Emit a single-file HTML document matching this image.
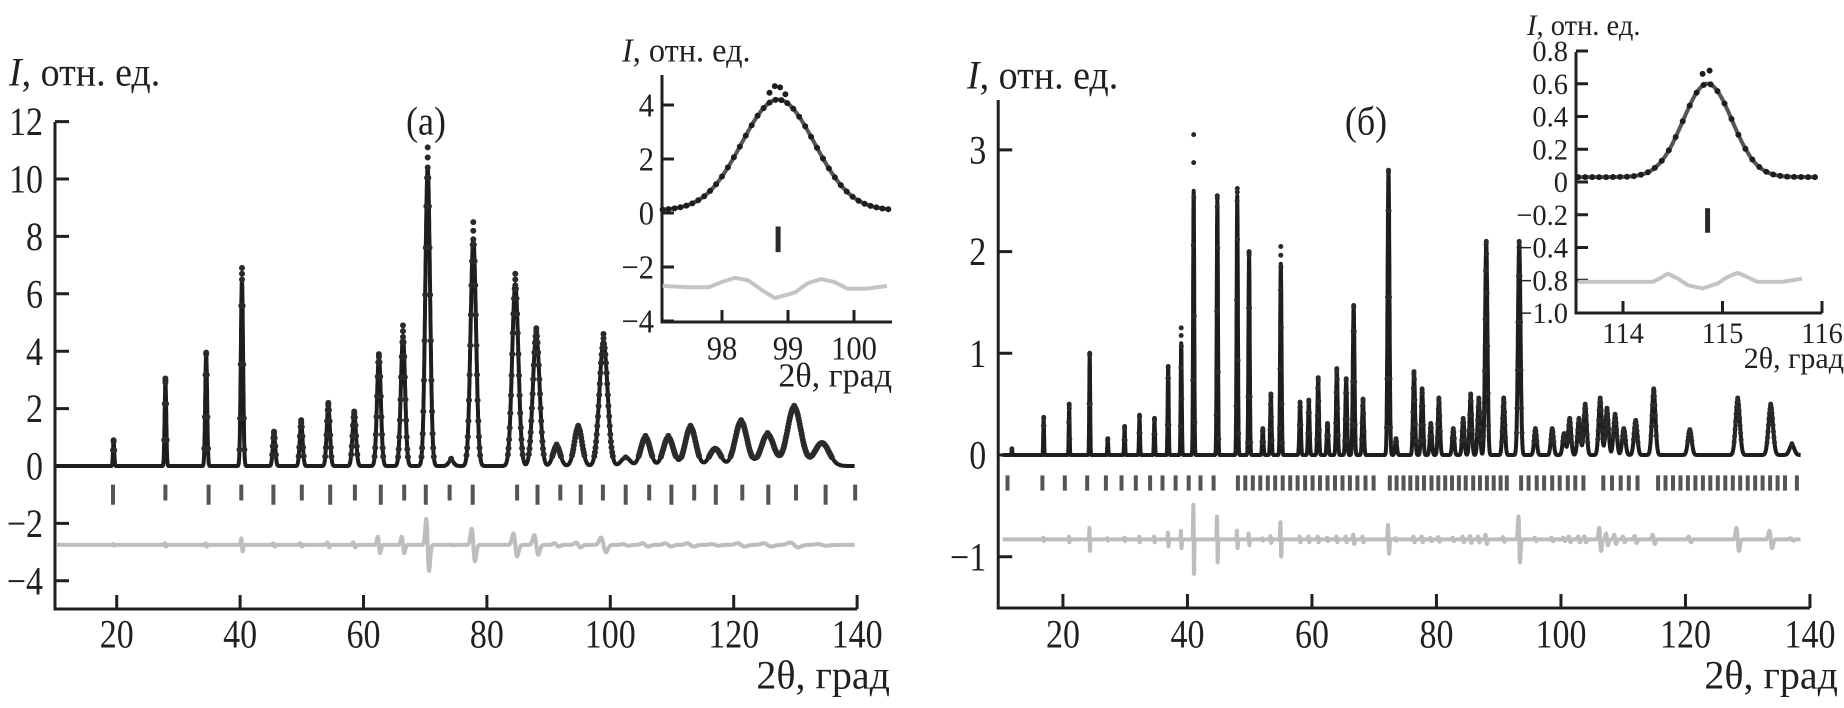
<!DOCTYPE html>
<html><head><meta charset="utf-8"><style>
html,body{margin:0;padding:0;background:#fff;}
svg{display:block;font-family:"Liberation Serif","DejaVu Serif",serif;}
</style></head><body>
<svg id="fig" width="1844" height="708" viewBox="0 0 1844 708" xmlns="http://www.w3.org/2000/svg"></svg>
<script>
// ---------- Panel (a) data ----------
const peaksA = [19.5,27.9,34.5,40.3,45.5,49.9,54.3,58.5,62.5,66.4,70.4,74.2,77.8,84.6,88.0,91.3,94.8,98.9,102.5,105.7,109.4,113.0,117.0,121.2,125.5,129.8,134.3];
const calcA  = [0.85,2.9,3.9,6.5,1.1,1.5,2.1,1.8,3.8,4.5,10.4,0.2,7.9,6.3,4.6,0.7,1.35,4.3,0.3,1.0,1.0,1.35,0.6,1.55,1.1,2.05,0.8];
const obsA   = [0.9,3.05,3.95,6.9,1.2,1.6,2.2,1.9,3.9,4.9,11.1,0.25,8.5,6.7,4.8,0.75,1.4,4.6,0.3,1.05,1.05,1.4,0.6,1.6,1.15,2.1,0.8];
const residA = [0.05,0.1,0.1,0.4,0.1,0.1,0.15,0.15,0.5,0.5,1.6,0.02,1.0,0.7,0.6,0.1,0.15,0.45,0.05,0.1,0.1,0.1,0.05,0.1,0.1,0.15,0.05];
const braggA = [19.4,27.9,34.9,40.2,45.4,50.0,54.6,58.6,62.8,66.6,70.1,73.95,77.7,84.9,88.2,91.9,95.2,98.8,102.5,106.3,109.9,113.6,117.1,121.4,125.6,130.1,134.9,139.7];
const yTicksA = [12,10,8,6,4,2,0,-2,-4];
const xTicks = [20,40,60,80,100,120,140];
// ---------- Panel (б) data ----------
const peaksB = [11.8,16.9,21.0,24.3,27.2,29.9,32.3,34.7,36.9,39.0,41.0,44.8,48.0,49.9,52.1,53.4,55.0,58.1,59.5,61.0,62.5,64.0,65.5,66.7,68.2,72.3,73.5,76.4,77.7,79.1,80.4,82.7,84.3,85.5,86.8,88.0,90.8,93.3,95.9,98.6,100.5,101.4,102.9,103.9,106.3,107.4,108.7,110.1,112.0,114.9,120.7,128.4,133.7,137.1];
const calcB  = [0.05,0.35,0.48,0.98,0.15,0.26,0.37,0.34,0.85,1.1,2.6,2.5,2.55,1.97,0.25,0.58,1.88,0.5,0.52,0.74,0.3,0.83,0.73,1.45,0.53,2.78,0.15,0.8,0.63,0.3,0.54,0.25,0.35,0.58,0.54,2.08,0.54,2.08,0.25,0.25,0.2,0.35,0.35,0.48,0.54,0.44,0.38,0.25,0.33,0.63,0.24,0.54,0.48,0.1];
const obsB   = [0.06,0.37,0.5,1.0,0.16,0.28,0.39,0.36,0.87,1.25,3.15,2.55,2.62,2.0,0.26,0.6,2.05,0.52,0.54,0.76,0.31,0.85,0.75,1.47,0.55,2.8,0.16,0.82,0.65,0.31,0.56,0.26,0.36,0.6,0.56,2.1,0.56,2.1,0.26,0.26,0.21,0.36,0.36,0.5,0.56,0.46,0.4,0.26,0.34,0.65,0.25,0.56,0.5,0.11];
const residB = [0,0.03,0.05,0.2,0.02,0.03,0.05,0.05,0.12,0.15,0.6,0.4,0.15,0.1,0.02,0.06,0.3,0.05,0.05,0.05,0.03,0.05,0.05,0.08,0.05,0.25,0.02,0.05,0.05,0.03,0.04,0.03,0.05,0.06,0.05,0.08,0.04,0.4,0.03,0.03,0.03,0.05,0.05,0.05,0.2,0.1,0.08,0.05,0.06,0.08,0.05,0.2,0.15,0.02];
const braggB = [11.1,16.7,20.3,23.9,26.9,29.4,31.7,34.0,36.0,38.1,40.2,42.1,44.2,48.1,49.3,50.5,51.7,52.9,54.1,55.3,56.5,57.7,58.9,60.1,61.3,62.5,63.7,64.9,66.1,67.3,68.6,69.9,72.5,73.6,74.7,75.8,76.9,78.0,79.2,80.3,81.4,82.5,83.6,84.7,85.9,87.0,88.1,89.2,90.3,91.3,93.6,94.8,96.1,97.3,98.6,99.8,101.1,102.3,103.6,106.8,108.2,109.6,110.9,112.3,115.6,116.8,118.0,119.2,120.4,121.6,122.8,124.0,125.2,126.4,127.6,128.8,130.0,131.2,132.4,133.6,134.8,136.0,137.9];
const yTicksB = [3,2,1,0,-1];
// ---------- Inset (a) data ----------
const insAPeak = [98.85], insACalc = [4.1], insABg = [0.1];
const insATopX = [98.72,98.8,98.88,98.96], insATopY = [4.45,4.7,4.65,4.4];
const insAResX = [97.1,97.5,97.8,98.0,98.2,98.4,98.6,98.8,98.95,99.1,99.3,99.5,99.7,99.9,100.2,100.5];
const insAResY = [-2.7,-2.75,-2.75,-2.55,-2.4,-2.5,-2.85,-3.15,-3.05,-2.95,-2.6,-2.45,-2.55,-2.8,-2.8,-2.7];
const insAYTicks = [4,2,0,-2,-4];
const insAXTicks = [98,99,100];
// ---------- Inset (б) data ----------
const insBPeak = [114.85], insBCalc = [0.57], insBBg = [0.03];
const insBTopX = [114.8,114.87], insBTopY = [0.66,0.68];
const insBResX = [113.55,114.3,114.38,114.45,114.55,114.65,114.8,114.95,115.05,115.15,115.25,115.35,115.6,115.8];
const insBResY = [-0.61,-0.61,-0.585,-0.56,-0.59,-0.63,-0.65,-0.62,-0.58,-0.555,-0.58,-0.61,-0.61,-0.59];
const insBYTickVals = [0.8,0.6,0.4,0.2,0,-0.2,-0.4,-0.6,-0.8];
const insBYTickLabels = ["0.8","0.6","0.4","0.2","0","\u22120.2","\u22120.4","\u22120.8","\u22121.0"];
const insBXTicks = [114,115,116];

const NS = "http://www.w3.org/2000/svg";
const svg = document.getElementById('fig');
function el(tag, attrs, parent){ const e=document.createElementNS(NS,tag); for(const k in attrs) e.setAttribute(k,attrs[k]); (parent||svg).appendChild(e); return e; }
function grp(name){ const g=el('g',{});   return g; }
function label(parent,x,cy,str,size,anchor,sx,name){
  const t=el('text',{transform:`translate(${x},${cy+size*0.34}) scale(${sx},1)`,'font-size':size,'text-anchor':anchor,fill:'#231f20'},parent);
  t.textContent=str;
  
  
  return t;
}
function title(parent,x,cy,size,name){
  const t=el('text',{transform:`translate(${x},${cy+size*0.34}) scale(0.95,1)`,'font-size':size,fill:'#231f20'},parent);
  const a=el('tspan',{'font-style':'italic'},t); a.textContent='I';
  const b=el('tspan',{},t); b.textContent=', отн. ед.';
  
  
}
const fmt = v => v<0 ? '\u2212'+(-v) : String(v);
const LN2 = 4*Math.log(2);
function prof(x,peaks,hs,wf){ let s=0; for(let i=0;i<peaks.length;i++){ const w=wf(peaks[i]); const d=(x-peaks[i])/w; if(Math.abs(d)<4) s+=hs[i]*Math.exp(-LN2*d*d);} return s; }
function resid(x,peaks,amps,wf){ let s=0; for(let i=0;i<peaks.length;i++){ const w=wf(peaks[i])*0.6; const d=(x-peaks[i])/w; if(Math.abs(d)<4) s+=amps[i]*(-d*2.2)*Math.exp(-LN2*d*d);} return s; }

function drawAxes(g,x0,x1,y0,y1,xs,ys,xt,yt,ticklen){
  el('path',{d:`M${x0} ${y0} V${y1} H${x1}`,fill:'none',stroke:'#231f20','stroke-width':3},g);
  let d='';
  yt.forEach(v=>{ d+=`M${x0} ${ys(v)} h${ticklen}`; });
  xt.forEach(v=>{ d+=`M${xs(v)} ${y1} v${-ticklen}`; });
  el('path',{d,fill:'none',stroke:'#231f20','stroke-width':3},g);
}

function drawPanel(o){
  const g=grp(o.name);
  drawAxes(g,o.xs(o.xmin),o.xs(o.xmax),o.ytop,o.ybot,o.xs,o.ys,o.xTicks,o.yTicks,14);
  let d='';
  for(let x=o.dmin;x<=o.dmax;x+=0.012){ const y=o.ys(o.rbase+resid(x,o.peaks,o.res,o.wf)); d+=(d?'L':'M')+o.xs(x).toFixed(1)+' '+y.toFixed(1); }
  const r=el('path',{d,fill:'none',stroke:'#bdbdbd','stroke-width':4,'stroke-linejoin':'round'},g);
   
  d='';
  o.bragg.forEach((p,i)=>{ const lo=o.tickLo+(i%2?0:o.tickStag); d+=`M${o.xs(p).toFixed(1)} ${o.ys(o.tickHi)} V${o.ys(lo)}`; });
  const b=el('path',{d,fill:'none',stroke:'#555','stroke-width':4},g);
   
  d='';
  for(let x=o.dmin;x<=o.dmax;x+=0.012){ const y=o.ys(prof(x,o.peaks,o.calc,o.wf)); d+=(d?'L':'M')+o.xs(x).toFixed(1)+' '+y.toFixed(1); }
  const c=el('path',{d,fill:'none',stroke:'#1e1e1e','stroke-width':4,'stroke-linejoin':'round'},g);
   
  d='';
  for(let x=o.dmin;x<=o.dmax;x+=o.dotStep){ const v=prof(x,o.peaks,o.calc,o.wf); if(v>o.dotMin) d+=`M${o.xs(x).toFixed(1)} ${o.ys(v).toFixed(1)}h0`; }
  o.peaks.forEach((p,i)=>{ d+=`M${o.xs(p).toFixed(1)} ${o.ys(o.obs[i]).toFixed(1)}h0M${o.xs(p).toFixed(1)} ${o.ys((o.obs[i]+o.calc[i])/2).toFixed(1)}h0`; });
  const ob=el('path',{d,fill:'none',stroke:'#2a2a2a','stroke-width':o.dotSize,'stroke-linecap':'round'},g);
   
  o.yTicks.forEach(v=>label(g,o.xs(o.xmin)-12,o.ys(v),fmt(v),40,'end',0.85,'y-tick-label'));
  o.xTicks.forEach(v=>label(g,o.xs(v),634,String(v),40,'middle',0.85,'x-tick-label'));
  label(g,o.xlabR,675,'2θ, град',40,'end',1,'x-axis-title');
  title(g,o.titleX,o.titleY,40,'y-axis-title');
  label(g,o.panelX,121,o.panelLbl,40,'middle',0.9,'panel-label');
}

drawPanel({name:'panel-a',xmin:10,xmax:140,dmin:10.2,dmax:139.6,xs:v=>55+(v-10)*6.17,ys:v=>466-v*28.7,ytop:122,ybot:609,
  xTicks:xTicks,yTicks:yTicksA,peaks:peaksA,calc:calcA,obs:obsA,res:residA,bragg:braggA,wf:p=>0.2+0.00014*p*p,
  rbase:-2.75,tickHi:-0.65,tickLo:-1.2,tickStag:-0.15,dotStep:0.1,dotMin:0.3,dotSize:6,
  xlabR:890,titleX:9,titleY:72,panelX:426,panelLbl:'(а)'});
drawPanel({name:'panel-b',xmin:9.6,xmax:140,dmin:10.3,dmax:138.5,xs:v=>1000.7+(v-10)*6.225,ys:v=>455-v*101.7,ytop:100,ybot:608,
  xTicks:xTicks,yTicks:yTicksB,peaks:peaksB,calc:calcB,obs:obsB,res:residB,bragg:braggB,wf:p=>0.14+0.00004*p*p,
  rbase:-0.83,tickHi:-0.2,tickLo:-0.35,tickStag:0,dotStep:0.08,dotMin:0.12,dotSize:5,
  xlabR:1838,titleX:967,titleY:75,panelX:1366,panelLbl:'(б)'});

function drawInset(o){
  const g=grp(o.name);
  drawAxes(g,o.x0,o.x1,o.ytop,o.ybot,o.xs,o.ys,o.xTicks,o.yTickVals,12);
  let d='';
  o.resX.forEach((x,i)=>{ d+=(i?'L':'M')+o.xs(x).toFixed(1)+' '+o.ys(o.resY[i]).toFixed(1); });
  const r=el('path',{d,fill:'none',stroke:'#c4c4c4','stroke-width':4,'stroke-linejoin':'round'},g);
   
  const t=el('path',{d:`M${o.xs(o.peak[0])} ${o.ys(o.tickHi)} V${o.ys(o.tickLo)}`,stroke:'#2a2a2a','stroke-width':5,fill:'none'},g);
   
  d=''; let dd='';
  const w=o.fwhm;
  for(let x=o.dmin;x<=o.dmax;x+=0.01){ const v=o.bg[0]+prof(x,o.peak,o.calc,()=>w); d+=(d?'L':'M')+o.xs(x).toFixed(1)+' '+o.ys(v).toFixed(1); }
  for(let x=o.dmin;x<=o.dmax;x+=o.dotStep){ const v=o.bg[0]+prof(x,o.peak,o.calc,()=>w); dd+=`M${o.xs(x).toFixed(1)} ${o.ys(v).toFixed(1)}h0`; }
  o.topX.forEach((x,i)=>{ dd+=`M${o.xs(x).toFixed(1)} ${o.ys(o.topY[i]).toFixed(1)}h0`; });
  const c=el('path',{d,fill:'none',stroke:'#555','stroke-width':4},g);
   
  const ob=el('path',{d:dd,fill:'none',stroke:'#1e1e1e','stroke-width':6,'stroke-linecap':'round'},g);
   
  o.yTickVals.forEach((v,i)=>label(g,o.x0-8,o.ys(v),o.yLabels[i],o.fs,'end',o.sx,'inset-y-tick-label'));
  o.xTicks.forEach(v=>label(g,o.xs(v),o.xlabY,String(v),o.fs,'middle',o.sx,'inset-x-tick-label'));
  label(g,o.xtR,o.xtY,'2θ, град',o.fs,'end',1,'inset-x-axis-title');
  title(g,o.titleX,o.titleY,o.fs,'inset-y-axis-title');
}
drawInset({name:'inset-a',x0:662,x1:892,ytop:75,ybot:322,xs:v=>722+(v-98)*66,ys:v=>213-v*27,
  xTicks:insAXTicks,yTickVals:insAYTicks,yLabels:insAYTicks.map(fmt),resX:insAResX,resY:insAResY,
  peak:insAPeak,calc:insACalc,bg:insABg,fwhm:1.3,topX:insATopX,topY:insATopY,tickHi:-0.5,tickLo:-1.45,
  dmin:97.1,dmax:100.55,dotStep:0.09,fs:34,sx:0.9,xlabY:348,xtR:892,xtY:375,titleX:622,titleY:50});
drawInset({name:'inset-b',x0:1576,x1:1822,ytop:52,ybot:313,xs:v=>1623+(v-114)*99.5,ys:v=>182-v*163.75,
  xTicks:insBXTicks,yTickVals:insBYTickVals,yLabels:insBYTickLabels,resX:insBResX,resY:insBResY,
  peak:insBPeak,calc:insBCalc,bg:insBBg,fwhm:0.58,topX:insBTopX,topY:insBTopY,tickHi:-0.16,tickLo:-0.31,
  dmin:113.55,dmax:115.95,dotStep:0.07,fs:30,sx:0.95,xlabY:333,xtR:1844,xtY:358,titleX:1527,titleY:25});
</script>
</body></html>
